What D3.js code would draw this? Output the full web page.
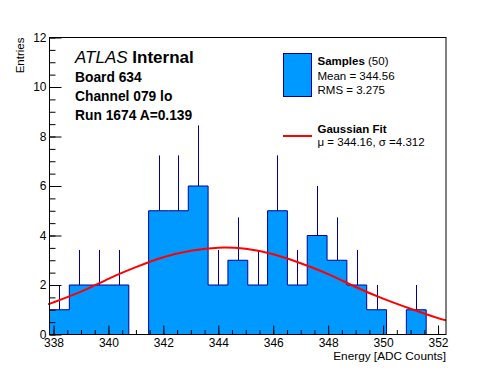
<!DOCTYPE html>
<html>
<head>
<meta charset="utf-8">
<script src="https://cdn.jsdelivr.net/npm/d3@7"></script>
<style>
  body { margin: 0; background: #fff; }
  svg { display: block; font-family: "Liberation Sans", Arial, sans-serif; }
</style>
</head>
<body>
<div class="chart"></div>
<script>
// histogram range + bin contents (20 bins)
const binLow = 337.854
const binHigh = 352.29
const counts = [1, 2, 2, 2, 0, 5, 5, 6, 2, 3, 2, 5, 2, 4, 3, 2, 1, 0, 1, 0]

// red fit curve
const fitX = [337.854, 338, 339, 340, 341, 342, 343, 344, 345, 346, 347, 348, 349, 350, 351, 352, 352.29]
const fitY = [1.24, 1.30, 1.73, 2.25, 2.72, 3.12, 3.38, 3.51, 3.46, 3.24, 2.88, 2.44, 1.92, 1.45, 1.04, 0.66, 0.58]

// axes
const xTicks = [338, 340, 342, 344, 346, 348, 350, 352]
const xMinor = d3.range(338, 352.3, 0.5)
const yTicks = [0, 2, 4, 6, 8, 10, 12]
const yMinor = d3.range(0, 12.01, 0.5)

// texts
const infoLines = ['Board 634', 'Channel 079 lo', 'Run 1674 A=0.139']
const statsLines = ['Mean = 344.56', 'RMS = 3.275']
const fitLine = 'μ = 344.16, σ =4.312'

const W = 496, H = 372
const padL = 49.5, padR = 446, padT = 37.5, padB = 334.5

const svg = d3.select('.chart').append('svg')
  .attr('width', W)
  .attr('height', H)

svg.append('rect').attr('width', W).attr('height', H).attr('fill', '#fff')

const x = d3.scaleLinear().domain([binLow, binHigh]).range([padL, padR])
const y = d3.scaleLinear().domain([0, 12]).range([padB, padT])

// bins -> edges
const bw = (binHigh - binLow) / counts.length
const bins = counts.map((c, i) => ({ x0: binLow + i * bw, x1: binLow + (i + 1) * bw, n: c }))
const stepPts = bins.map(b => [b.x0, b.n]).concat([[binHigh, counts[counts.length - 1]]])

// fill
svg.append('path')
  .datum(stepPts)
  .attr('d', d3.area().curve(d3.curveStepAfter)
    .x(d => x(d[0])).y0(y(0)).y1(d => y(d[1])))
  .attr('fill', '#0099ff')

// outline (starts and ends at the axis)
const outline = [[binLow, 0]].concat(stepPts)
svg.append('path')
  .datum(outline)
  .attr('d', d3.line().curve(d3.curveStepAfter).x(d => x(d[0])).y(d => y(d[1])))
  .attr('fill', 'none')
  .attr('stroke', '#000099')
  .attr('stroke-width', 1)

// error bars (upper half only, lower half hidden by the fill)
svg.append('g')
  .selectAll('line')
  .data(bins.filter(b => b.n > 0))
  .join('line')
  .attr('x1', d => Math.round(x((d.x0 + d.x1) / 2)) + 0.5)
  .attr('x2', d => Math.round(x((d.x0 + d.x1) / 2)) + 0.5)
  .attr('y1', d => y(d.n))
  .attr('y2', d => y(d.n + Math.sqrt(d.n)))
  .attr('stroke', '#000099')
  .attr('stroke-width', 1)

// fit
svg.append('path')
  .datum(fitX.map((v, i) => [v, fitY[i]]))
  .attr('d', d3.line().curve(d3.curveNatural).x(d => x(d[0])).y(d => y(d[1])))
  .attr('fill', 'none')
  .attr('stroke', '#ff0000')
  .attr('stroke-width', 2)

// frame
svg.append('rect')
  .attr('x', padL).attr('y', padT)
  .attr('width', padR - padL).attr('height', padB - padT)
  .attr('fill', 'none').attr('stroke', '#000').attr('stroke-width', 1)

// x axis
const xAxisGroup = svg.append('g')
  .attr('transform', `translate(0,${padB})`)
  .call(d3.axisBottom(x).tickValues(xTicks).tickSize(-9).tickPadding(4).tickFormat(d3.format('d')))
svg.append('g')
  .attr('transform', `translate(0,${padB})`)
  .call(d3.axisBottom(x).tickValues(xMinor).tickSize(-4.5).tickFormat(''))
  .select('.domain').remove()
xAxisGroup.select('.domain').remove()

// y axis
const yAxisGroup = svg.append('g')
  .attr('transform', `translate(${padL},0)`)
  .call(d3.axisLeft(y).tickValues(yTicks).tickSize(-12).tickPadding(3))
svg.append('g')
  .attr('transform', `translate(${padL},0)`)
  .call(d3.axisLeft(y).tickValues(yMinor).tickSize(-6).tickFormat(''))
  .select('.domain').remove()
yAxisGroup.select('.domain').remove()

svg.selectAll('.tick line').attr('stroke', '#000')
svg.selectAll('.tick text')
  .attr('fill', '#000')
  .style('font-family', '"Liberation Sans", Arial, sans-serif')
  .style('font-size', '12px')

// axis titles
svg.append('text')
  .attr('x', padR).attr('y', 359.5)
  .attr('text-anchor', 'end')
  .style('font-size', '11.8px')
  .text('Energy [ADC Counts]')

svg.append('text')
  .attr('transform', `translate(24,${padT}) rotate(-90)`)
  .attr('text-anchor', 'end')
  .style('font-size', '11.5px')
  .text('Entries')

// ATLAS label
const atlas = svg.append('text')
  .attr('x', 75).attr('y', 63)
  .style('font-size', '17px')
atlas.append('tspan').style('font-style', 'italic').text('ATLAS')
atlas.append('tspan').style('font-weight', 'bold').text(' Internal')

svg.append('g')
  .selectAll('text')
  .data(infoLines)
  .join('text')
  .attr('x', 75)
  .attr('y', (d, i) => 82 + i * 19)
  .style('font-size', '13.8px')
  .style('font-weight', 'bold')
  .text(d => d)

// legend
svg.append('rect')
  .attr('x', 283.5).attr('y', 53.5)
  .attr('width', 28).attr('height', 43)
  .attr('fill', '#0099ff').attr('stroke', '#000099')

const samples = svg.append('text')
  .attr('x', 317.5).attr('y', 65)
  .style('font-size', '11.5px')
samples.append('tspan').style('font-weight', 'bold').text('Samples')
samples.append('tspan').text(' (50)')

svg.append('g')
  .selectAll('text')
  .data(statsLines)
  .join('text')
  .attr('x', 317.5)
  .attr('y', (d, i) => 79.5 + i * 14)
  .style('font-size', '11.5px')
  .text(d => d)

svg.append('line')
  .attr('x1', 283).attr('x2', 312)
  .attr('y1', 136).attr('y2', 136)
  .attr('stroke', '#ff0000').attr('stroke-width', 2)

svg.append('text')
  .attr('x', 317.5).attr('y', 132.5)
  .style('font-size', '11.5px')
  .style('font-weight', 'bold')
  .text('Gaussian Fit')

svg.append('text')
  .attr('x', 317.5).attr('y', 146)
  .style('font-size', '11.5px')
  .text(fitLine)
</script>
</body>
</html>
